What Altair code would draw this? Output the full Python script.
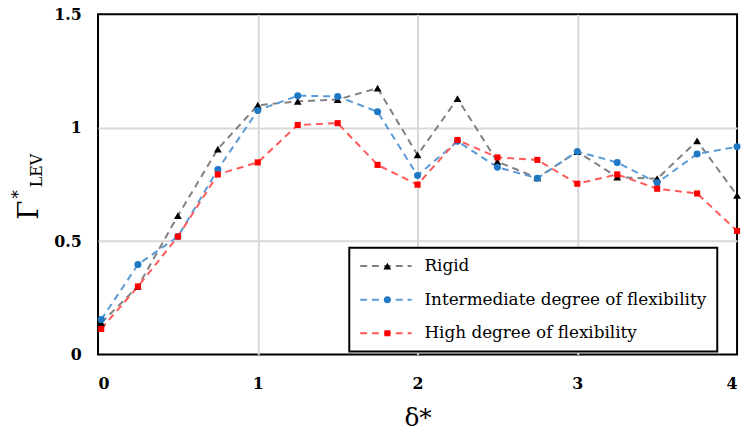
import altair as alt
import pandas as pd

x_vals = [0.02, 0.25, 0.5, 0.75, 1.0, 1.25, 1.5, 1.75, 2.0, 2.25, 2.5, 2.75, 3.0, 3.25, 3.5, 3.75, 4.0]
rigid = [0.14, 0.30, 0.612, 0.906, 1.099, 1.116, 1.124, 1.174, 0.88, 1.128, 0.85, 0.779, 0.895, 0.782, 0.775, 0.942, 0.702]
intermediate = [0.154, 0.397, 0.52, 0.816, 1.076, 1.141, 1.138, 1.07, 0.789, 0.94, 0.826, 0.777, 0.895, 0.847, 0.757, 0.884, 0.916]
high = [0.113, 0.30, 0.52, 0.794, 0.847, 1.012, 1.02, 0.836, 0.749, 0.946, 0.869, 0.858, 0.753, 0.794, 0.731, 0.71, 0.545]

series_names = ["Rigid", "Intermediate degree of flexibility", "High degree of flexibility"]
line_colors = ["#808080", "#5b9bd5", "#ff5a5a"]
marker_colors = ["#000000", "#1f78c4", "#ff0000"]
marker_shapes = ["triangle-up", "circle", "square"]
marker_sizes = [62, 38, 58]

x_ticks = [0, 1, 2, 3, 4]
y_ticks = [0, 0.5, 1, 1.5]

rows = []
for k, (name, vals) in enumerate(zip(series_names, [rigid, intermediate, high])):
    for x, y in zip(x_vals, vals):
        rows.append({"delta": x, "gamma": y, "series": name, "k": k})
df = pd.DataFrame(rows)

FONT = "DejaVu Serif"
grid_color = {"condition": {"test": "datum.value === 0 || datum.value === 4 || datum.value === 1.5", "value": "transparent"}, "value": "#d9d9d9"}

x_enc = alt.X("delta:Q", scale=alt.Scale(domain=[0, 4], nice=False),
              axis=alt.Axis(values=x_ticks, title="δ*", format="~g", grid=True, gridColor=grid_color,
                            gridWidth=2, domain=False, ticks=False, labelPadding=21,
                            labelFont=FONT, labelFontSize=16, labelFontWeight="bold", labelColor="black",
                            titleFont=FONT, titleFontSize=25, titleFontWeight="normal", titleColor="black",
                            titlePadding=15))
y_enc = alt.Y("gamma:Q", scale=alt.Scale(domain=[0, 1.5], nice=False),
              axis=alt.Axis(values=y_ticks, title=None, format="~g", grid=True, gridColor=grid_color,
                            gridWidth=2, domain=False, ticks=False, labelPadding=17,
                            labelFont=FONT, labelFontSize=16, labelFontWeight="bold", labelColor="black"))

LEG_X, LEG_Y = 254, 236
ROW_H = 17
line_legend = alt.Legend(orient="none", legendX=LEG_X, legendY=LEG_Y, title=None,
                         symbolType="stroke", symbolSize=2704, symbolDash=[7, 5], symbolStrokeWidth=2,
                         clipHeight=ROW_H, labelLimit=400,
                         labelFont=FONT, labelFontSize=17, labelColor="black", labelOffset=12,
                         strokeColor="black", fillColor="white", padding=10, rowPadding=16)
marker_legend = alt.Legend(orient="none", legendX=LEG_X, legendY=LEG_Y, title=None,
                           clipHeight=ROW_H, labelLimit=400,
                           labelFont=FONT, labelFontSize=17, labelOpacity=0, labelOffset=12,
                           symbolOffset=20, symbolStrokeWidth=0, symbolOpacity=1,
                           padding=10, rowPadding=16)

lines = alt.Chart(df).mark_line(strokeDash=[7, 5], strokeWidth=2).encode(
    x=x_enc, y=y_enc,
    color=alt.Color("series:N", scale=alt.Scale(domain=series_names, range=line_colors), legend=line_legend),
    order="k:Q",
)

points = alt.Chart(df).mark_point(filled=True, opacity=1).encode(
    x=x_enc, y=y_enc,
    color=alt.Color("series:N", scale=alt.Scale(domain=series_names, range=marker_colors), legend=marker_legend),
    shape=alt.Shape("series:N", scale=alt.Scale(domain=series_names, range=marker_shapes), legend=marker_legend),
    size=alt.Size("series:N", scale=alt.Scale(domain=series_names, range=marker_sizes), legend=marker_legend),
    order="k:Q",
)

ytitle = pd.DataFrame({"t": ["Γ", "*", "LEV"]})
t_gamma = alt.Chart(ytitle).transform_filter("datum.t === 'Γ'").mark_text(
    angle=270, font=FONT, fontSize=28, align="center", baseline="middle", color="black"
).encode(x=alt.value(-69), y=alt.value(198), text="t:N")
t_star = alt.Chart(ytitle).transform_filter("datum.t === '*'").mark_text(
    angle=270, font=FONT, fontSize=17, align="center", baseline="middle", color="black"
).encode(x=alt.value(-80), y=alt.value(182), text="t:N")
t_lev = alt.Chart(ytitle).transform_filter("datum.t === 'LEV'").mark_text(
    angle=270, font=FONT, fontSize=16, align="center", baseline="middle", color="black"
).encode(x=alt.value(-62), y=alt.value(158), text="t:N")

chart = alt.layer(lines, points, t_gamma, t_star, t_lev).resolve_scale(
    color="independent", shape="independent", size="independent"
).properties(
    width=646, height=344,
    autosize=alt.AutoSizeParams(type="none"),
    padding={"left": 91, "top": 4, "right": 4, "bottom": 80},
).configure_view(stroke="black", strokeWidth=2).configure_legend(strokeWidth=2)

chart.save("out.html", embed_options={"renderer": "svg", "actions": False})
